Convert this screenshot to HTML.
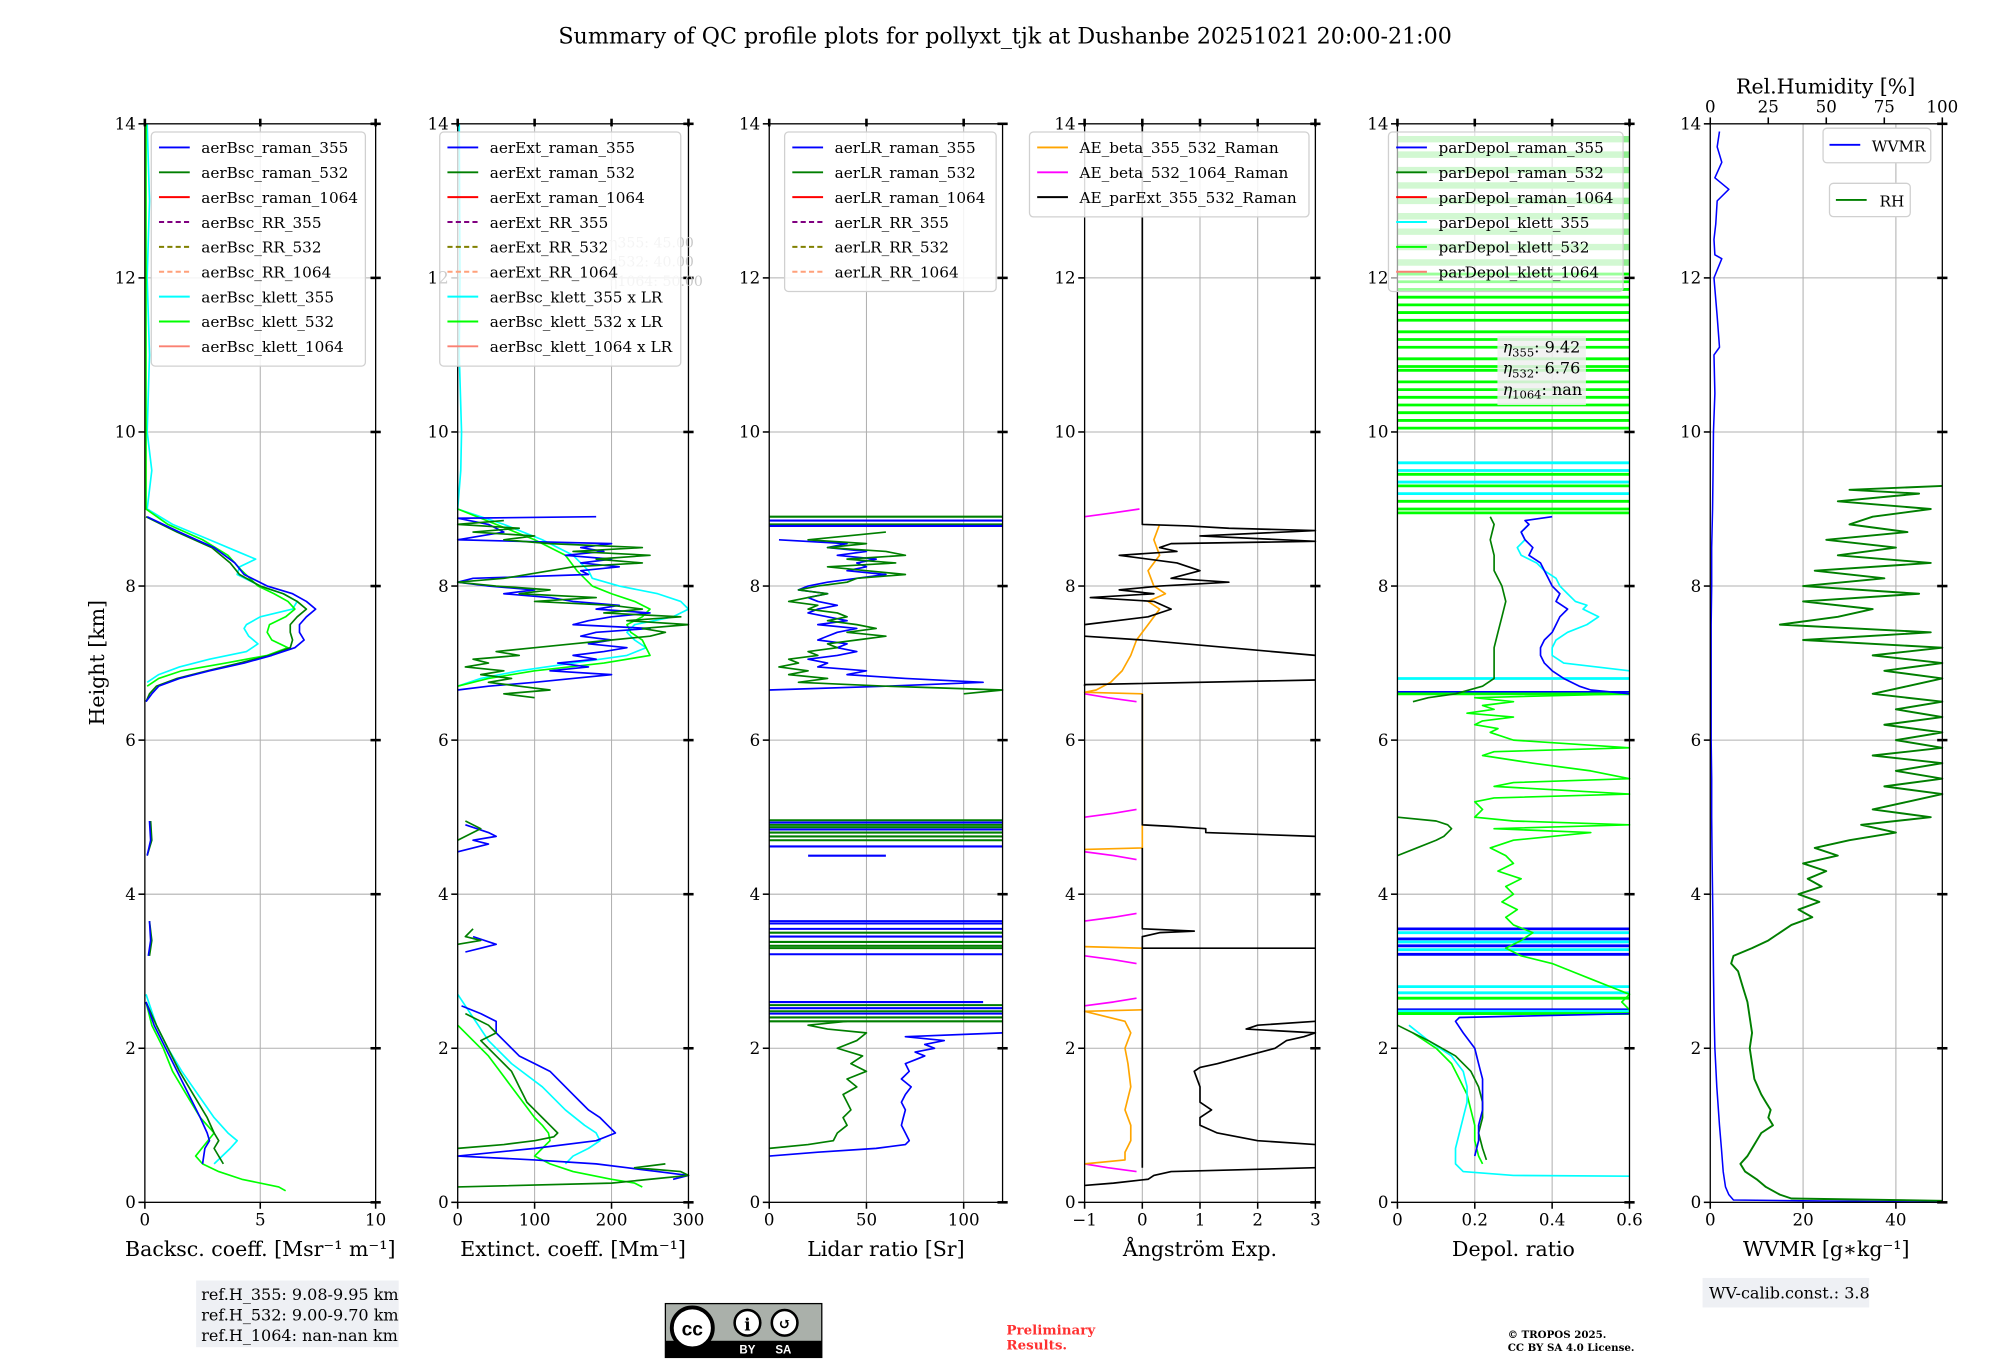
<!DOCTYPE html>
<html><head><meta charset="utf-8"><style>
html,body{margin:0;padding:0;background:#fff;}
svg{display:block;font-family:"DejaVu Serif","Liberation Serif",serif;}
</style></head><body>
<svg id="fig" xmlns="http://www.w3.org/2000/svg" width="2000" height="1360" viewBox="0 0 1560 1061" preserveAspectRatio="none">
<rect x="0" y="0" width="1560" height="1061" fill="#fff"/>
<text x="784" y="34" font-size="17.3" text-anchor="middle">Summary of QC profile plots for pollyxt_tjk at Dushanbe 20251021 20:00-21:00</text>
<g id="plots"></g>
<text transform="translate(81,517) rotate(-90)" font-size="16" text-anchor="middle">Height [km]</text>
<g>
<rect x="153" y="999" width="158" height="52" fill="#eef0f4"/>
<text x="157" y="1014" font-size="12.5">ref.H_355: 9.08-9.95 km</text>
<text x="157" y="1030" font-size="12.5">ref.H_532: 9.00-9.70 km</text>
<text x="157" y="1046" font-size="12.5">ref.H_1064: nan-nan km</text>
</g>
<g>
<rect x="519" y="1017" width="122" height="42" fill="#aab0aa" stroke="#000" stroke-width="1"/>
<rect x="519" y="1046" width="122" height="13" fill="#000"/>
<circle cx="540" cy="1036" r="16" fill="#fff" stroke="#000" stroke-width="3"/>
<text x="540" y="1042" font-size="15" font-weight="bold" text-anchor="middle" font-family="Liberation Sans, sans-serif">cc</text>
<circle cx="583" cy="1032" r="10" fill="#fff" stroke="#000" stroke-width="2"/>
<text x="583" y="1038" font-size="13" font-weight="bold" text-anchor="middle">i</text>
<circle cx="612" cy="1032" r="10" fill="#fff" stroke="#000" stroke-width="2"/>
<text x="612" y="1037" font-size="12" font-weight="bold" text-anchor="middle">↺</text>
<text x="583" y="1056" font-size="9" fill="#fff" text-anchor="middle" font-family="Liberation Sans, sans-serif" font-weight="bold">BY</text>
<text x="611" y="1056" font-size="9" fill="#fff" text-anchor="middle" font-family="Liberation Sans, sans-serif" font-weight="bold">SA</text>
</g>
<text x="785" y="1041" font-size="10.5" font-weight="bold" fill="#ff3030">Preliminary</text>
<text x="785" y="1053" font-size="10.5" font-weight="bold" fill="#ff3030">Results.</text>
<text x="1176" y="1044" font-size="8" font-weight="bold">© TROPOS 2025.</text>
<text x="1176" y="1054" font-size="8" font-weight="bold">CC BY SA 4.0 License.</text>
<g>
<rect x="1328" y="997" width="130" height="23" fill="#eef0f4"/>
<text x="1333" y="1013" font-size="12.5">WV-calib.const.: 3.8</text>
</g>
</svg>
<script>
// ---------- data ----------
const bscR355_h=[8.9,8.7,8.5,8.3,8.15,8.0,7.9,7.8,7.7,7.6,7.5,7.4,7.3,7.2,7.1,7.0,6.9,6.8,6.7,6.6,6.5,null,4.95,4.7,4.5,null,3.65,3.4,3.2,null,2.6,2.3,2.0,1.7,1.4,1.1,0.9,0.8,0.7,0.5];
const bscR355_v=[0.1,1.5,3.0,3.9,4.3,5.3,6.4,7.0,7.4,7.0,6.7,6.7,6.9,6.5,5.5,4.3,2.8,1.5,0.6,0.3,0.05,null,0.2,0.25,0.1,null,0.2,0.25,0.15,null,0.05,0.4,0.9,1.4,1.9,2.4,2.7,2.8,2.6,2.5];
const bscR532_h=[8.9,8.7,8.5,8.3,8.15,8.0,7.9,7.8,7.7,7.6,7.5,7.4,7.3,7.2,7.1,7.0,6.9,6.8,6.7,6.6,6.5,null,4.95,4.7,4.5,null,3.65,3.4,3.2,null,2.6,2.3,2.0,1.7,1.4,1.1,0.9,0.8,0.7,0.5];
const bscR532_v=[0.05,1.4,2.9,3.7,4.1,5.0,6.0,6.6,7.0,6.6,6.3,6.3,6.4,6.3,5.4,4.1,2.7,1.4,0.5,0.2,0.05,null,0.25,0.3,0.1,null,0.2,0.3,0.2,null,0.05,0.5,1.0,1.5,2.1,2.7,3.0,3.2,3.0,3.4];
const bscK355_h=[14,13,12,11,10,9.5,9.0,8.8,8.6,8.45,8.35,8.25,8.15,8.0,7.9,7.8,7.7,7.6,7.5,7.45,7.35,7.25,7.15,7.05,6.95,6.85,6.75,null,2.7,2.3,2.0,1.7,1.4,1.1,0.9,0.8,0.7,0.5];
const bscK355_v=[0.1,0.2,0.1,0.2,0.1,0.3,0.1,1.2,2.8,4.0,4.8,4.1,4.0,5.0,6.0,6.6,6.4,5.0,4.4,4.3,4.5,4.9,4.4,2.8,1.5,0.6,0.1,null,0.05,0.5,1.0,1.6,2.3,3.0,3.6,4.0,3.7,3.0];
const bscK532_h=[14,12,10,9.0,8.8,8.6,8.4,8.2,8.0,7.9,7.8,7.7,7.6,7.5,7.4,7.3,7.2,7.1,7.0,6.9,6.8,6.7,null,2.6,2.3,2.0,1.7,1.4,1.1,0.9,0.75,0.6,0.5,0.4,0.3,0.2,0.15];
const bscK532_v=[0.05,0.05,0.05,0.05,1.0,2.5,3.6,4.2,4.9,5.6,6.2,6.5,6.1,5.4,5.3,5.5,6.2,5.3,3.5,1.6,0.6,0.1,null,0.05,0.3,0.8,1.2,1.8,2.4,3.0,2.6,2.2,2.5,3.2,4.2,5.8,6.1];
const extR355_h=[8.9,8.88,8.8,8.7,8.6,8.55,8.5,8.45,8.4,8.35,8.3,8.25,8.2,8.15,8.1,8.05,8.0,7.95,7.9,7.85,7.8,7.75,7.7,7.65,7.6,7.55,7.5,7.45,7.4,7.35,7.3,7.25,7.2,7.15,7.1,7.05,7.0,6.95,6.9,6.85,6.8,6.75,6.7,6.65,null,4.9,4.8,4.75,4.7,4.65,4.55,null,3.45,3.35,3.3,3.25,null,2.55,2.45,2.35,2.2,2.1,2.0,1.9,1.8,1.7,1.6,1.5,1.4,1.3,1.2,1.1,1.0,0.9,0.8,0.7,0.6,0.55,0.5,0.45,0.4,0.35,0.3];
const extR355_v=[180,0,40,60,0,200,160,190,140,200,160,210,160,170,20,0,40,100,60,120,150,210,180,250,200,170,150,250,180,160,200,170,220,190,150,180,130,170,120,200,150,100,40,0,null,10,40,50,20,40,0,null,20,50,30,10,null,5,30,50,50,60,70,80,100,120,130,140,150,160,170,185,195,205,180,100,0,100,180,220,260,300,280];
const extR532_h=[8.85,8.8,8.75,8.7,8.65,8.6,8.55,8.5,8.45,8.4,8.35,8.3,8.25,8.2,8.1,8.05,8.0,7.95,7.9,7.85,7.8,7.75,7.7,7.65,7.6,7.55,7.5,7.45,7.4,7.35,7.3,7.25,7.2,7.15,7.1,7.05,7.0,6.95,6.9,6.85,6.8,6.75,6.7,6.65,6.6,6.55,null,4.95,4.85,4.8,4.7,null,3.55,3.45,3.4,3.35,null,2.45,2.3,2.2,2.1,2.0,1.9,1.8,1.7,1.6,1.5,1.4,1.3,1.2,1.1,1.0,0.9,0.85,0.8,0.75,0.7,null,0.5,0.45,0.4,0.35,0.3,0.25,0.2];
const extR532_v=[60,0,80,20,100,60,120,240,150,250,180,240,150,120,60,0,50,120,80,180,100,200,240,190,290,220,300,240,270,250,200,150,100,50,80,20,40,10,60,30,70,40,80,120,60,100,null,10,30,20,0,null,20,10,30,0,null,10,40,50,30,40,50,60,70,75,80,85,90,100,110,120,130,125,100,60,0,null,270,230,290,300,250,200,0];
const extK355_h=[14,12,11,10,9.5,9.0,8.8,8.6,8.4,8.2,8.1,8.0,7.9,7.8,7.7,7.6,7.5,7.4,7.3,7.2,7.1,7.0,6.9,6.8,6.7,null,2.7,2.4,2.1,1.8,1.5,1.2,1.0,0.9,0.8,0.7,0.6,0.5];
const extK355_v=[2,3,2,5,4,0,60,110,150,170,175,210,260,290,300,280,230,220,230,245,220,150,80,30,0,null,0,20,40,70,110,140,165,180,185,170,150,140];
const extK532_h=[9.0,8.8,8.6,8.4,8.2,8.0,7.9,7.8,7.7,7.6,7.5,7.4,7.3,7.2,7.1,7.0,6.9,6.8,6.7,null,2.3,2.1,1.9,1.7,1.5,1.3,1.1,1.0,0.9,0.8,0.7,0.6,0.5,0.4,0.3,0.25,0.2];
const extK532_v=[0,50,100,140,155,175,200,230,250,240,220,225,240,245,250,190,100,40,0,null,0,20,40,55,70,85,100,110,118,120,110,100,120,150,200,230,240];
const lrR355_h=[8.6,8.55,8.5,8.45,8.4,8.35,8.3,8.25,8.2,8.15,8.1,8.05,8.0,7.95,7.9,7.85,7.8,7.75,7.7,7.65,7.6,7.55,7.5,7.45,7.4,7.35,7.3,7.25,7.2,7.15,7.1,7.05,7.0,6.95,6.9,6.85,6.8,6.75,6.7,6.65,null,2.2,2.15,2.1,2.05,2.0,1.95,1.9,1.85,1.8,1.7,1.6,1.5,1.4,1.3,1.2,1.1,1.0,0.9,0.8,0.75,0.7,0.65,0.6];
const lrR355_v=[5,40,30,50,35,55,45,50,40,60,45,30,20,15,30,20,25,35,25,20,30,40,25,45,35,30,25,40,35,45,35,20,30,25,50,40,70,110,60,0,null,120,70,90,80,85,75,80,75,70,72,68,73,70,68,70,69,68,70,72,70,55,25,0];
const lrR532_h=[8.7,8.65,8.6,8.55,8.5,8.45,8.4,8.35,8.3,8.25,8.2,8.15,8.1,8.05,8.0,7.95,7.9,7.85,7.8,7.75,7.7,7.65,7.6,7.55,7.5,7.45,7.4,7.35,7.3,7.25,7.2,7.15,7.1,7.05,7.0,6.95,6.9,6.85,6.8,6.75,6.7,6.65,6.6,null,2.35,2.3,2.25,2.2,2.1,2.0,1.9,1.8,1.7,1.6,1.5,1.4,1.3,1.2,1.1,1.0,0.9,0.8,0.75,0.7];
const lrR532_v=[60,40,20,50,30,60,70,40,65,30,50,70,45,40,25,15,30,20,10,25,20,35,40,30,45,55,40,60,45,30,35,20,25,10,15,5,20,10,30,15,60,120,100,null,40,20,30,50,45,35,48,42,50,40,45,38,40,42,38,40,35,33,20,0];
const lrBar_h=[8.9,8.85,8.8,8.78,4.96,4.93,4.9,4.87,4.84,4.8,4.75,4.7,4.62,4.5,3.65,3.62,3.55,3.5,3.45,3.38,3.33,3.3,3.22,2.6,2.56,2.52,2.48,2.45,2.4,2.35];
const lrBar_a=[0,0,0,0,0,0,0,0,0,0,0,0,0,20,0,0,0,0,0,0,0,0,0,0,0,0,0,0,0,0];
const lrBar_b=[120,120,120,120,120,120,120,120,120,120,120,120,120,60,120,120,120,120,120,120,120,120,120,110,120,120,120,120,120,120];
const lrBar_c=["#007f00","#0000ff","#007f00","#0000ff","#007f00","#0000ff","#007f00","#007f00","#0000ff","#007f00","#007f00","#007f00","#0000ff","#0000ff","#0000ff","#0000ff","#0000ff","#007f00","#0000ff","#007f00","#007f00","#007f00","#0000ff","#0000ff","#007f00","#0000ff","#007f00","#0000ff","#007f00","#007f00"];
const aeB355_h=[8.8,8.6,8.4,8.2,8.0,7.9,7.8,7.7,7.5,7.3,7.1,6.9,6.75,6.65,6.62,6.6,4.6,4.58,null,3.32,3.3,null,2.5,2.48,2.35,2.2,2.0,1.8,1.5,1.2,1.0,0.8,0.65,0.55,0.5];
const aeB355_v=[0.3,0.2,0.3,0.1,0.2,0.4,0.1,0.3,0.1,-0.1,-0.2,-0.35,-0.55,-0.8,-1,0,0,-1,null,-1,0,null,0,-1,-0.3,-0.2,-0.3,-0.25,-0.2,-0.3,-0.2,-0.2,-0.3,-0.3,-1];
const aeB532_h=[8.9,8.95,9.0,null,6.5,6.55,6.6,null,5.0,5.05,5.1,null,4.45,4.5,4.55,null,3.65,3.7,3.75,null,3.1,3.15,3.2,null,2.55,2.6,2.65,null,0.4,0.45,0.5];
const aeB532_v=[-1,-0.5,-0.05,null,-0.1,-0.6,-1,null,-1,-0.5,-0.1,null,-0.1,-0.5,-1,null,-1,-0.5,-0.1,null,-0.1,-0.5,-1,null,-1,-0.5,-0.1,null,-0.1,-0.6,-1];
const aeE_h=[14,8.8,8.78,8.75,8.72,8.65,8.58,8.55,8.5,8.45,8.4,8.3,8.2,8.1,8.05,8.0,7.95,7.9,7.85,7.8,7.7,7.6,7.5,null,7.35,7.3,7.1,null,6.78,6.72,6.7,null,6.6,4.9,4.88,4.85,4.8,4.75,null,4.6,3.55,3.52,3.5,3.45,3.3,3.3,null,3.3,0.45,null,2.35,2.3,2.25,2.2,2.15,2.1,2.0,1.9,1.8,1.75,1.7,1.5,1.3,1.2,1.1,1.0,0.9,0.8,0.75,null,0.45,0.4,0.35,0.3,0.25,0.22];
const aeE_v=[0,0,0.8,1.5,3,1.0,3,0.5,0.3,0.6,-0.4,0.6,1.0,0.5,1.5,0.3,-0.4,0.2,-0.9,0.2,0.5,0.1,-1,null,-1,0,3,null,3,-1,-1,null,0,0,0.5,1.1,1.1,3,null,0,0,0.9,0.3,0,0,3,null,0,0,null,3,2,1.8,3,2.8,2.5,2.3,1.8,1.3,1.0,0.9,1.0,1.0,1.2,1.0,1.0,1.3,2.0,3,null,3,0.5,0.2,0.1,-0.5,-1];
const pdR355_h=[8.9,8.85,8.8,8.7,8.6,8.5,8.4,8.3,8.2,8.1,8.0,7.9,7.8,7.7,7.6,7.5,7.4,7.3,7.2,7.1,7.0,6.9,6.8,6.7,6.65,6.6,null,2.45,2.4,2.35,2.2,2.0,1.8,1.6,1.4,1.2,1.0,0.8,0.6];
const pdR355_v=[0.4,0.33,0.34,0.32,0.33,0.35,0.34,0.37,0.38,0.39,0.4,0.42,0.41,0.44,0.42,0.41,0.4,0.38,0.37,0.37,0.38,0.4,0.43,0.47,0.5,0.6,null,0.6,0.16,0.15,0.17,0.2,0.21,0.22,0.22,0.22,0.21,0.21,0.2];
const pdR532_h=[8.9,8.8,8.6,8.4,8.2,8.0,7.8,7.6,7.4,7.2,7.0,6.9,6.8,6.7,6.6,6.55,6.5,null,5.0,4.95,4.9,4.85,4.8,4.75,4.7,4.6,4.5,null,2.3,2.1,1.9,1.7,1.5,1.3,1.1,0.9,0.7,0.55];
const pdR532_v=[0.24,0.25,0.24,0.25,0.25,0.27,0.28,0.27,0.26,0.25,0.25,0.25,0.25,0.22,0.15,0.08,0.04,null,0.0,0.1,0.13,0.14,0.13,0.12,0.1,0.05,0.0,null,0.0,0.08,0.15,0.19,0.21,0.22,0.22,0.21,0.22,0.23];
const pdK355_h=[8.8,8.7,8.6,8.5,8.4,8.3,8.2,8.1,8.0,7.9,7.8,7.75,7.7,7.6,7.5,7.4,7.3,7.2,7.1,7.0,6.9,null,2.3,2.1,1.9,1.7,1.5,1.3,1.1,0.9,0.7,0.5,0.4,0.35,0.34];
const pdK355_v=[0.34,0.32,0.33,0.31,0.32,0.36,0.38,0.41,0.42,0.44,0.46,0.49,0.48,0.52,0.49,0.44,0.41,0.4,0.4,0.43,0.6,null,0.03,0.08,0.14,0.17,0.18,0.18,0.17,0.16,0.15,0.15,0.17,0.3,0.6];
const pdK532_h=[6.6,6.55,6.5,6.45,6.4,6.35,6.3,6.25,6.2,6.15,6.1,6.0,5.9,5.85,5.8,5.7,5.6,5.5,5.45,5.4,5.3,5.25,5.2,5.1,5.0,4.95,4.9,4.85,4.8,4.7,4.6,4.5,4.4,4.3,4.2,4.1,4.0,3.9,3.8,3.7,3.6,3.5,3.4,3.3,3.2,3.1,3.0,2.9,2.8,2.7,2.6,2.5,null,2.2,2.0,1.8,1.6,1.4,1.2,1.0,0.8,0.6,0.5];
const pdK532_v=[0.6,0.2,0.3,0.22,0.25,0.18,0.3,0.22,0.2,0.26,0.24,0.3,0.6,0.25,0.22,0.35,0.5,0.6,0.3,0.25,0.6,0.25,0.2,0.22,0.2,0.3,0.6,0.25,0.5,0.3,0.24,0.28,0.3,0.26,0.32,0.28,0.3,0.27,0.31,0.28,0.3,0.35,0.32,0.28,0.32,0.4,0.45,0.5,0.55,0.6,0.58,0.6,null,0.04,0.1,0.14,0.16,0.18,0.19,0.2,0.2,0.21,0.22];
const pdBar_h=[13.8,13.6,13.4,13.2,13.0,12.8,12.6,12.4,12.2,12.05,11.95,11.85,11.75,11.65,11.55,11.45,11.3,11.2,11.1,10.95,10.85,10.8,10.65,10.55,10.45,10.35,10.25,10.15,10.05,9.6,9.5,9.45,9.35,9.3,9.2,9.1,9.0,8.95,6.8,6.62,6.6,3.55,3.5,3.42,3.38,3.33,3.28,3.22,2.8,2.72,2.65,2.5,2.48,2.45];
const pdBar_c=[3,3,3,3,3,3,3,3,3,1,1,1,1,1,1,1,1,1,1,1,1,1,1,1,1,1,1,1,1,2,2,1,2,1,2,1,1,1,2,0,1,0,2,0,2,0,2,0,2,2,1,0,2,1];
const wvmr_h=[13.9,13.7,13.5,13.3,13.15,13.0,12.7,12.5,12.3,12.25,12.0,11.5,11.1,11.0,10.5,10.0,9.5,9.0,8.5,8.0,7.5,7.0,6.5,6.0,5.5,5.0,4.5,4.0,3.5,3.0,2.5,2.0,1.5,1.0,0.7,0.4,0.2,0.1,0.03,0.0];
const wvmr_v=[2,1.5,2.5,1.0,4,1.5,1.2,0.8,1.0,2.5,0.8,1.5,2,0.8,1.0,0.7,0.6,0.5,0.3,0.3,0.2,0.2,0.2,0.2,0.3,0.3,0.4,0.5,0.6,0.7,0.8,1.0,1.4,2.0,2.4,2.8,3.3,4.0,5,50];
const rh_h=[9.3,9.25,9.2,9.1,9.0,8.9,8.8,8.7,8.6,8.5,8.4,8.3,8.2,8.1,8.0,7.9,7.8,7.7,7.6,7.5,7.4,7.3,7.2,7.1,7.0,6.9,6.8,6.7,6.6,6.5,6.4,6.3,6.2,6.1,6.0,5.9,5.8,5.7,5.6,5.5,5.4,5.3,5.2,5.1,5.0,4.9,4.8,4.7,4.6,4.5,4.4,4.3,4.2,4.1,4.0,3.9,3.8,3.7,3.6,3.5,3.4,3.3,3.2,3.1,3.0,2.8,2.6,2.4,2.2,2.0,1.8,1.6,1.4,1.3,1.2,1.1,1.0,0.9,0.8,0.7,0.6,0.5,0.4,0.3,0.2,0.1,0.05,0.02];
const rh_v=[100,60,90,55,95,70,60,85,50,80,55,95,45,75,40,90,40,70,55,30,95,40,100,70,100,75,100,85,70,100,80,100,75,100,80,100,70,100,80,100,75,100,85,70,95,65,80,60,45,55,40,50,42,48,38,47,38,44,35,30,25,18,10,9,12,14,16,17,18,17,18,19,22,24,26,25,27,22,20,18,16,13,15,20,24,30,35,100];

// ---------- layout ----------
const panels=[
 {x0:113,x1:293,min:0,max:10,ticks:[0,5,10],label:"Backsc. coeff. [Msr⁻¹ m⁻¹]",name:"backscatter"},
 {x0:357,x1:537,min:0,max:300,ticks:[0,100,200,300],label:"Extinct. coeff. [Mm⁻¹]",name:"extinction"},
 {x0:600,x1:782,min:0,max:120,ticks:[0,50,100],label:"Lidar ratio [Sr]",name:"lidar-ratio"},
 {x0:846,x1:1026,min:-1,max:3,ticks:[-1,0,1,2,3],label:"Ångström Exp.",name:"angstrom"},
 {x0:1090,x1:1271,min:0,max:0.6,ticks:[0,0.2,0.4,0.6],label:"Depol. ratio",name:"depol"},
 {x0:1334,x1:1515,min:0,max:50,ticks:[0,20,40],label:"WVMR [g∗kg⁻¹]",name:"wvmr"}
];
const Y0=938,Y14=96.6;
const ys=h=>Y0+(Y14-Y0)*h/14;
const xs=(p,v)=>p.x0+(p.x1-p.x0)*(v-p.min)/(p.max-p.min);
const NS="http://www.w3.org/2000/svg";
const root=document.getElementById('plots');
function mk(tag,attrs,parent){const e=document.createElementNS(NS,tag);for(const k in attrs)e.setAttribute(k,attrs[k]);(parent||root).appendChild(e);return e;}
function fmt(v){return (Math.abs(v-Math.round(v))<1e-9)?String(Math.round(v)).replace('-','−'):v.toFixed(1);}

function drawAxes(p,i){
  const g=mk('g',{});
  
  
  const grid=mk('g',{stroke:'#b0b0b0','stroke-width':0.8},g);
  for(let h=0;h<=14;h+=2){const l=mk('line',{x1:p.x0,x2:p.x1,y1:ys(h),y2:ys(h)},grid);
    }
  p.ticks.forEach(t=>{const l=mk('line',{x1:xs(p,t),x2:xs(p,t),y1:Y14,y2:Y0},grid);
    });
  p.g=mk('g',{},g);
  const ax=mk('g',{stroke:'#000','stroke-width':1.2,fill:'none'},g);
  p.ax=ax;
  for(let h=0;h<=14;h+=2){
    mk('line',{x1:p.x0-5,x2:p.x0,y1:ys(h),y2:ys(h)},ax);
    mk('line',{x1:p.x1-4,x2:p.x1+4,y1:ys(h),y2:ys(h),'stroke-width':2},ax);
    const t=mk('text',{x:p.x0-7,y:ys(h)+4.5,'font-size':13,'text-anchor':'end',stroke:'none',fill:'#000'},g);
    t.textContent=h;
    
  }
  p.ticks.forEach(v=>{
    mk('line',{x1:xs(p,v),x2:xs(p,v),y1:Y0,y2:Y0+5},ax);
    if(i!==5) mk('line',{x1:xs(p,v),x2:xs(p,v),y1:Y14-4,y2:Y14+2,'stroke-width':2},ax);
    const t=mk('text',{x:xs(p,v),y:Y0+18,'font-size':13,'text-anchor':'middle',fill:'#000'},g);
    t.textContent=fmt(v);
    
  });
  const lab=mk('text',{x:(p.x0+p.x1)/2,y:Y0+42,'font-size':16,'text-anchor':'middle',fill:'#000'},g);
  lab.textContent=p.label;
  
}
function finishFrame(p){mk('rect',{x:p.x0,y:Y14,width:p.x1-p.x0,height:Y0-Y14,fill:'none',stroke:'#000','stroke-width':1},p.ax);}

function line(p,hs,vs,color,name,w){
  let d='',pen=false;
  for(let k=0;k<hs.length;k++){
    if(hs[k]===null||vs[k]===null){pen=false;continue;}
    const x=Math.max(p.x0-2,Math.min(p.x1+2,xs(p,vs[k]))),y=ys(hs[k]);
    d+=(pen?'L':'M')+x.toFixed(1)+' '+y.toFixed(1);pen=true;
  }
  const e=mk('path',{d:d,fill:'none',stroke:color,'stroke-width':w||1.3,'stroke-linejoin':'round'},p.g);
  
  
}
function hbar(p,h,a,b,color,name,w,op){
  const e=mk('line',{x1:xs(p,a),x2:xs(p,b),y1:ys(h),y2:ys(h),stroke:color,'stroke-width':w||1.6,'stroke-opacity':op||1},p.g);
  
  
}
function legend(x,y,w,entries,name,opacity){
  const g=mk('g',{});
  
  
  mk('rect',{x:x,y:y,width:w,height:entries.length*19.4+8,rx:3,fill:'#fff','fill-opacity':opacity||0.85,stroke:'#d0d0d0'},g);
  entries.forEach((en,k)=>{
    const yy=y+12+k*19.4;
    const l=mk('line',{x1:x+6,x2:x+30,y1:yy,y2:yy,stroke:en[1],'stroke-width':1.5,'stroke-dasharray':en[2]?'4,2.5':'none'},g);
    
    const t=mk('text',{x:x+39,y:yy+4.5,'font-size':11.9,fill:'#000'},g);
    t.textContent=en[0];
    
  });
}

panels.forEach(drawAxes);
const [P1,P2,P3,P4,P5,P6]=panels;
line(P1,bscK355_h,bscK355_v,'#00ffff','aerBsc-klett-355-line');
line(P1,bscK532_h,bscK532_v,'#00ff00','aerBsc-klett-532-line');
line(P1,bscR532_h,bscR532_v,'#007f00','aerBsc-raman-532-line');
line(P1,bscR355_h,bscR355_v,'#0000ff','aerBsc-raman-355-line');
line(P2,extK355_h,extK355_v,'#00ffff','aerExt-klett-355-line');
line(P2,extK532_h,extK532_v,'#00ff00','aerExt-klett-532-line');
line(P2,extR355_h,extR355_v,'#0000ff','aerExt-raman-355-line');
line(P2,extR532_h,extR532_v,'#007f00','aerExt-raman-532-line');
for(let k=0;k<lrBar_h.length;k++) hbar(P3,lrBar_h[k],lrBar_a[k],lrBar_b[k],lrBar_c[k],'lidar-ratio-artifact-line');
line(P3,lrR355_h,lrR355_v,'#0000ff','aerLR-raman-355-line');
line(P3,lrR532_h,lrR532_v,'#007f00','aerLR-raman-532-line');
line(P4,aeB532_h,aeB532_v,'#ff00ff','ae-beta-532-1064-line');
line(P4,aeB355_h,aeB355_v,'#ffa500','ae-beta-355-532-line');
line(P4,aeE_h,aeE_v,'#000000','ae-parext-355-532-line');
const pdCols=['#0000ff','#00ff00','#00ffff','#90ee90'];
for(let k=0;k<pdBar_h.length;k++) hbar(P5,pdBar_h[k],0,0.6,pdCols[pdBar_c[k]],'depol-artifact-line',pdBar_c[k]===3?5:2.2);
line(P5,pdK532_h,pdK532_v,'#00ff00','parDepol-klett-532-line');
line(P5,pdK355_h,pdK355_v,'#00ffff','parDepol-klett-355-line');
line(P5,pdR532_h,pdR532_v,'#007f00','parDepol-raman-532-line');
line(P5,pdR355_h,pdR355_v,'#0000ff','parDepol-raman-355-line');
const P6rh={x0:P6.x0,x1:P6.x1,min:0,max:100};
P6rh.g=P6.g;
line(P6rh,rh_h,rh_v,'#007f00','relative-humidity-line',1.5);
line(P6,wvmr_h,wvmr_v,'#0000ff','wvmr-line',1.2);
panels.forEach(finishFrame);
[0,25,50,75,100].forEach(v=>{
  mk('line',{x1:xs(P6rh,v),x2:xs(P6rh,v),y1:Y14-5,y2:Y14,stroke:'#000','stroke-width':1.2});
  const t=mk('text',{x:xs(P6rh,v),y:Y14-9,'font-size':13,'text-anchor':'middle'});
  t.textContent=v;
  
});
const rhT=mk('text',{x:1424,y:73,'font-size':16,'text-anchor':'middle'});
rhT.textContent='Rel.Humidity [%]';


['η355: 45.00','η532: 40.00','η1064: 50.00'].forEach((s,k)=>{
  const t=mk('text',{x:475,y:193+k*15,'font-size':11,fill:'#c8c8c8'});t.textContent=s;
  
});
legend(118,103,167,[['aerBsc_raman_355','#0000ff'],['aerBsc_raman_532','#007f00'],['aerBsc_raman_1064','#ff0000'],['aerBsc_RR_355','#800080',1],['aerBsc_RR_532','#808000',1],['aerBsc_RR_1064','#ffa07a',1],['aerBsc_klett_355','#00ffff'],['aerBsc_klett_532','#00ff00'],['aerBsc_klett_1064','#fa8072']],'legend-backscatter');
legend(343,103,188,[['aerExt_raman_355','#0000ff'],['aerExt_raman_532','#007f00'],['aerExt_raman_1064','#ff0000'],['aerExt_RR_355','#800080',1],['aerExt_RR_532','#808000',1],['aerExt_RR_1064','#ffa07a',1],['aerBsc_klett_355 x LR','#00ffff'],['aerBsc_klett_532 x LR','#00ff00'],['aerBsc_klett_1064 x LR','#fa8072']],'legend-extinction',0.8);
legend(612,103,165,[['aerLR_raman_355','#0000ff'],['aerLR_raman_532','#007f00'],['aerLR_raman_1064','#ff0000'],['aerLR_RR_355','#800080',1],['aerLR_RR_532','#808000',1],['aerLR_RR_1064','#ffa07a',1]],'legend-lidar-ratio');
legend(803,103,218,[['AE_beta_355_532_Raman','#ffa500'],['AE_beta_532_1064_Raman','#ff00ff'],['AE_parExt_355_532_Raman','#000000']],'legend-angstrom');
legend(1083,103,183,[['parDepol_raman_355','#0000ff'],['parDepol_raman_532','#007f00'],['parDepol_raman_1064','#ff0000'],['parDepol_klett_355','#00ffff'],['parDepol_klett_532','#00ff00'],['parDepol_klett_1064','#fa8072']],'legend-depol',0.6);
const eg=mk('g',{});
mk('rect',{x:1168,y:262,width:69,height:54,fill:'#f0f0f0','fill-opacity':0.85},eg);
[['355','9.42'],['532','6.76'],['1064','nan']].forEach((e,k)=>{
  const t=mk('text',{x:1172,y:275+k*16.5,'font-size':12.5},eg);
  t.innerHTML='<tspan font-style="italic">η</tspan><tspan font-size="9" dy="3">'+e[0]+'</tspan><tspan dy="-3">: '+e[1]+'</tspan>';
});
const wl=mk('g',{});
mk('rect',{x:1422,y:100,width:84,height:27,rx:3,fill:'#fff',stroke:'#d0d0d0'},wl);
mk('line',{x1:1427,x2:1451,y1:113,y2:113,stroke:'#0000ff','stroke-width':1.5},wl);
const wt=mk('text',{x:1460,y:118,'font-size':11.9},wl);wt.textContent='WVMR';
const rl=mk('g',{});
mk('rect',{x:1427,y:143,width:63,height:26,rx:3,fill:'#fff',stroke:'#d0d0d0'},rl);
mk('line',{x1:1432,x2:1456,y1:156,y2:156,stroke:'#007f00','stroke-width':1.5},rl);
const rt=mk('text',{x:1466,y:161,'font-size':11.9},rl);rt.textContent='RH';
</script>
</body></html>
